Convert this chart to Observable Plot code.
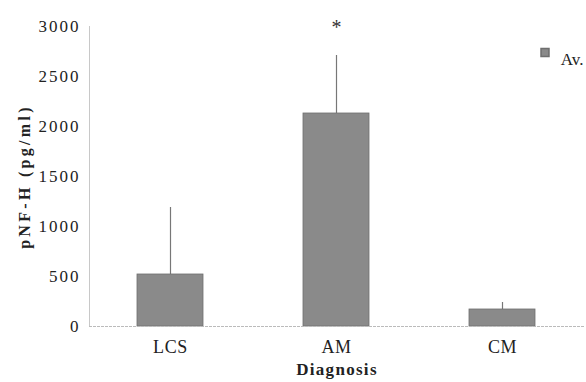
<!DOCTYPE html>
<html>
<head>
<meta charset="utf-8">
<script src="https://cdn.jsdelivr.net/npm/d3@7"></script>
<script src="https://cdn.jsdelivr.net/npm/@observablehq/plot@0.6"></script>
<style>
  html, body { margin: 0; padding: 0; background: #fff; }
</style>
</head>
<body>
<div id="chart"></div>
<script>
const categories = ["LCS", "AM", "CM"];
const means = [520, 2130, 170];
const errorTops = [1190, 2710, 240];
const significance = ["", "*", ""];
const yTicks = [0, 500, 1000, 1500, 2000, 2500, 3000];
const seriesName = "Av.";
const xTitle = "Diagnosis";
const yTitle = "pNF-H (pg/ml)";

const data = categories.map((c, i) => ({
  cat: c, mean: means[i], top: errorTops[i], sig: significance[i]
}));

const FF = "'Liberation Serif', 'Times New Roman', serif";

const chart = Plot.plot({
  width: 586,
  height: 382,
  marginLeft: 89,
  marginRight: 2,
  marginTop: 26,
  marginBottom: 56,
  style: { background: "#fff", fontFamily: FF },
  x: { domain: categories, paddingInner: 0.6, paddingOuter: 0.29, label: null },
  y: { domain: [0, 3000], ticks: yTicks, label: null },
  marks: [
    Plot.frame({ anchor: "left", stroke: "#c8c8c8", strokeDasharray: "3,1" }),
    Plot.ruleX(data, { x: "cat", y1: "mean", y2: "top", stroke: "#777", strokeWidth: 1.2 }),
    Plot.barY(data, { x: "cat", y: "mean", fill: "#8a8a8a", stroke: "#6e6e6e", strokeWidth: 0.8 }),
    Plot.ruleY([0], { stroke: "#bbb", strokeWidth: 1, strokeDasharray: "3,1" }),
    Plot.axisY({ ticks: yTicks, tickFormat: d3.format("d"), tickSize: 0, tickPadding: 9, fontSize: 17, fill: "#222", label: null }),
    Plot.axisX({ tickSize: 0, tickPadding: 14, fontSize: 18, fill: "#222", label: null }),
    Plot.text(data.filter(d => d.sig), { x: "cat", y: "top", text: "sig", dy: -28, fontSize: 20, fill: "#333" }),
    Plot.text([xTitle], { frameAnchor: "bottom", dy: 48, text: d => d, fontSize: 17, fontWeight: "bold", fill: "#222" }),
    Plot.text([yTitle], { frameAnchor: "left", dx: -65, rotate: -90, textAnchor: "middle", text: d => d, fontSize: 16, fontWeight: "bold", fill: "#222" }),
    Plot.dot([seriesName], { frameAnchor: "top-right", dx: -39.5, dy: 26, symbol: "square", r: 4.5, fill: "#8a8a8a", stroke: "#6e6e6e" }),
    Plot.text([seriesName], { frameAnchor: "top-right", dx: -1, dy: 26, text: d => d, textAnchor: "end", fontSize: 17, fill: "#222" })
  ]
});
const root = d3.select(chart);
root.selectAll("g, text").attr("font-family", FF);
root.selectAll("text").each(function () {
  const t = this.textContent;
  const sel = d3.select(this);
  if (/^\d+$/.test(t)) sel.style("letter-spacing", "2px");
  else if (categories.includes(t)) sel.style("letter-spacing", "0.6px");
  else if (t === xTitle) sel.style("letter-spacing", "1.3px");
  else if (t === yTitle) sel.style("letter-spacing", "3.3px");
});
document.getElementById("chart").appendChild(chart);
</script>
</body>
</html>
